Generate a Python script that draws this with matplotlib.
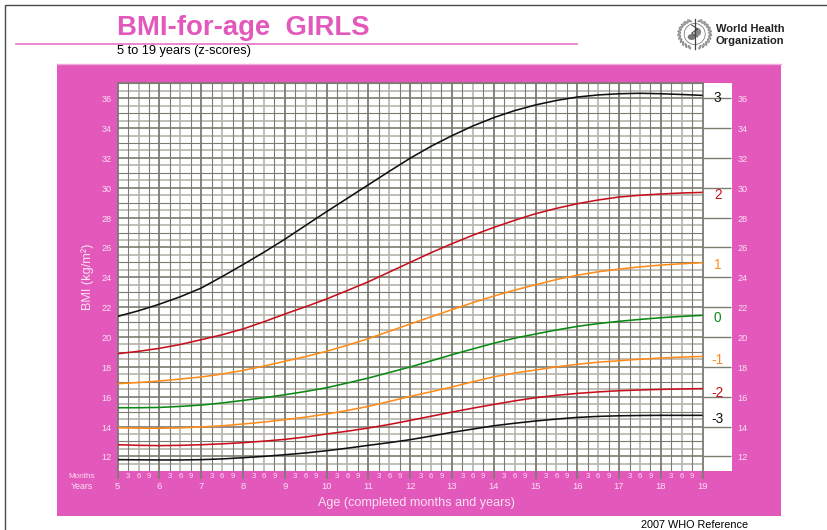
"""BMI-for-age girls, 5 to 19 years (z-scores) - WHO 2007 reference chart."""

import matplotlib
matplotlib.use("Agg")
import matplotlib.pyplot as plt
import numpy as np
from matplotlib.patches import Circle, Ellipse, Rectangle

plt.rcParams["font.family"] = ["Liberation Sans", "DejaVu Sans"]

# ── Data ──────────────────────────────────────────────────────────────────────
ages = [5, 5.5, 6, 6.5, 7, 7.5, 8, 8.5, 9, 9.5, 10, 10.5, 11, 11.5, 12, 12.5, 13,
        13.5, 14, 14.5, 15, 15.5, 16, 16.5, 17, 17.5, 18, 18.5, 19]
z_plus3 = [21.38, 21.76, 22.2, 22.7, 23.28, 24.05, 24.85, 25.68, 26.55, 27.48, 28.4, 29.3,
           30.2, 31.1, 31.98, 32.78, 33.49, 34.14, 34.7, 35.17, 35.55, 35.85, 36.08, 36.22,
           36.3, 36.33, 36.3, 36.25, 36.19]
z_plus2 = [18.88, 19.04, 19.24, 19.5, 19.82, 20.15, 20.54, 21.02, 21.54, 22.03, 22.55, 23.12,
           23.7, 24.35, 25.0, 25.65, 26.25, 26.82, 27.34, 27.82, 28.26, 28.62, 28.93, 29.18,
           29.38, 29.5, 29.58, 29.65, 29.69]
z_plus1 = [16.87, 16.95, 17.05, 17.18, 17.32, 17.52, 17.76, 18.05, 18.37, 18.69, 19.04, 19.45,
           19.89, 20.38, 20.87, 21.35, 21.83, 22.3, 22.74, 23.14, 23.5, 23.85, 24.14, 24.37,
           24.55, 24.7, 24.82, 24.91, 24.98]
z_zero = [15.26, 15.26, 15.28, 15.35, 15.44, 15.58, 15.75, 15.93, 16.13, 16.35, 16.6, 16.92,
          17.25, 17.62, 17.99, 18.4, 18.81, 19.2, 19.58, 19.92, 20.2, 20.47, 20.71, 20.9,
          21.05, 21.18, 21.29, 21.38, 21.45]
z_minus1 = [13.92, 13.89, 13.88, 13.91, 13.97, 14.05, 14.17, 14.3, 14.46, 14.63, 14.84, 15.08,
            15.35, 15.68, 16.02, 16.33, 16.65, 17.0, 17.33, 17.58, 17.79, 18.0, 18.17, 18.31,
            18.41, 18.51, 18.59, 18.65, 18.7]
z_minus2 = [12.78, 12.74, 12.72, 12.74, 12.78, 12.84, 12.92, 13.02, 13.14, 13.3, 13.5, 13.69,
            13.9, 14.14, 14.41, 14.69, 14.97, 15.23, 15.48, 15.72, 15.93, 16.09, 16.22, 16.32,
            16.4, 16.45, 16.49, 16.52, 16.54]
z_minus3 = [11.78, 11.77, 11.76, 11.76, 11.78, 11.83, 11.91, 12.0, 12.11, 12.23, 12.38, 12.55,
            12.74, 12.92, 13.12, 13.36, 13.61, 13.83, 14.05, 14.22, 14.37, 14.5, 14.61, 14.68,
            14.72, 14.74, 14.75, 14.75, 14.75]
z_labels = ["3", "2", "1", "0", "-1", "-2", "-3"]
year_ticks = list(range(5, 20))
month_labels = ["3", "6", "9"]
bmi_ticks = list(range(12, 38, 2))

PINK = "#e359bb"
PALE = "#fddff4"
DARK = "#7b7b70"
LIGHT = "#b5b5ab"
BLACK = "#111111"
RED = "#c8101c"
ORANGE = "#ff8c1a"
GREEN = "#0a8a14"
W, H = 828, 530

fig = plt.figure(figsize=(W / 100, H / 100), dpi=100, facecolor="white")

# page layer in pixel coordinates
page = fig.add_axes([0, 0, 1, 1], zorder=0)
page.set_xlim(0, W)
page.set_ylim(H, 0)
page.axis("off")

page.plot([5.5, 5.5, W], [H, 4.5, 4.5], color="#4a4a4a", lw=1.0)
page.plot([16, 577], [43.5, 43.5], color="#e873c8", lw=1.2)
page.add_patch(Rectangle((57.5, 63.5), 724, 452, facecolor=PINK, edgecolor="none"))
page.plot([57.5, 781.5], [63.5, 63.5], color="#f0a8dc", lw=1.0)

page.text(117, 28, "BMI-for-age  GIRLS", fontsize=19.8, fontweight="bold", color=PINK,
          ha="left", va="center")
page.text(117, 51, "5 to 19 years (z-scores)", fontsize=9.2, color="black", ha="left", va="center")
page.text(641, 524.5, "2007 WHO Reference", fontsize=7.8, color="black", ha="left", va="center")

# WHO emblem
LX, LY = 694.7, 34
for ang in np.arange(20, 170, 14):
    a = np.radians(ang)
    for side in (-1, 1):
        page.add_patch(Ellipse((LX + side * 15.5 * np.sin(a), LY - 14 * np.cos(a)), 1.8, 4.6,
                               angle=side * (ang + 50), facecolor="#a0a0a0",
                               edgecolor="#666666", lw=0.3))
page.add_patch(Circle((LX, LY), 10.5, facecolor="white", edgecolor="#666666", lw=0.5))
page.add_patch(Ellipse((LX - 3, LY + 3), 8, 6, facecolor="#777777", edgecolor="none"))
page.add_patch(Ellipse((LX + 3, LY - 2), 7, 8, facecolor="#888888", edgecolor="none"))
page.plot([LX, LX], [LY - 15, LY + 15], color="#444444", lw=0.9)
page.plot([LX - 3, LX + 3, LX - 3, LX + 3], [LY - 9, LY - 5, LY - 1, LY + 3], color="#444444", lw=0.7)
page.text(716, 29.5, "World Health", fontsize=8.0, fontweight="bold", color="#222222",
          ha="left", va="center")
page.text(716, 41, "Organization", fontsize=8.0, fontweight="bold", color="#222222",
          ha="left", va="center")

# ── Chart ─────────────────────────────────────────────────────────────────────
AL, AR, AT, AB = 117.7, 732.0, 83.3, 471.3
ax = fig.add_axes([AL / W, 1 - AB / H, (AR - AL) / W, (AB - AT) / H], zorder=1)
ax.set_xlim(5, 5 + (AR - AL) / 41.78)
ax.set_ylim(11, 37)
for s in ax.spines.values():
    s.set_visible(False)
ax.set_xticks([])
ax.set_yticks([])

# horizontal grid: half units pale, whole units dark, even units heavier
for v in np.arange(11.5, 37, 1):
    ax.plot([5, 19], [v, v], color=LIGHT, lw=1.2, zorder=1, solid_capstyle="butt")
for v in range(11, 38):
    if v % 2 == 1:
        ax.plot([5, 19], [v, v], color=DARK, lw=0.8, zorder=1.2, solid_capstyle="butt")
for v in bmi_ticks:
    ax.plot([5, 19], [v, v], color=DARK, lw=1.2, zorder=1.2, solid_capstyle="butt")
    ax.plot([19, 19.69], [v, v], color=DARK, lw=1.0, zorder=1.2, solid_capstyle="butt")
    ax.text(4.85, v - 0.1, str(v), fontsize=6.6, color=PALE, ha="right", va="center")
    ax.text(19.83, v - 0.1, str(v), fontsize=6.6, color=PALE, ha="left", va="center", clip_on=False)

# vertical grid: 3/9 months thin, 6 months pale, years heavier
for y0 in year_ticks[:-1]:
    ax.plot([y0 + 0.5, y0 + 0.5], [11, 37], color=LIGHT, lw=1.2, zorder=1, solid_capstyle="butt")
    for q in (0.25, 0.75):
        ax.plot([y0 + q, y0 + q], [11, 37], color=DARK, lw=0.8, zorder=1.2, solid_capstyle="butt")
    for q, lab in zip((0.25, 0.5, 0.75), month_labels):
        ax.text(y0 + q, 10.66, lab, fontsize=5.6, color=PALE, ha="center", va="center", clip_on=False)
for y0 in year_ticks:
    ax.plot([y0, y0], [10.5, 37], color=DARK, lw=1.3, zorder=1.4, solid_capstyle="butt", clip_on=False)
    ax.text(y0, 9.95, str(y0), fontsize=6.8, color=PALE, ha="center", va="center", clip_on=False)
ax.plot([5, 19], [37, 37], color=DARK, lw=1.2, zorder=1.4, clip_on=False)

series = [z_plus3, z_plus2, z_plus1, z_zero, z_minus1, z_minus2, z_minus3]
colors = [BLACK, RED, ORANGE, GREEN, ORANGE, RED, BLACK]
label_y = [36.0, 29.5, 24.8, 21.25, 18.45, 16.25, 14.5]
for vals, col, lab, ly in zip(series, colors, z_labels, label_y):
    ax.plot(ages, vals, color=col, lw=1.15, zorder=3, solid_capstyle="butt")
    ax.text(19.36, ly, lab, fontsize=9.8, color=col, ha="center", va="center", zorder=4)

ax.text(4.13, 10.66, "Months", fontsize=5.9, color=PALE, ha="center", va="center", clip_on=False)
ax.text(4.14, 9.95, "Years", fontsize=6.3, color=PALE, ha="center", va="center", clip_on=False)
ax.text(4.28, 24.07, "BMI (kg/m²)", fontsize=9.2, color=PALE, rotation=90, ha="center", va="center",
        clip_on=False)
ax.text(12.16, 8.9, "Age (completed months and years)", fontsize=9.1, color=PALE, ha="center",
        va="center", clip_on=False)

plt.savefig("out.png", dpi=100, facecolor="white")
